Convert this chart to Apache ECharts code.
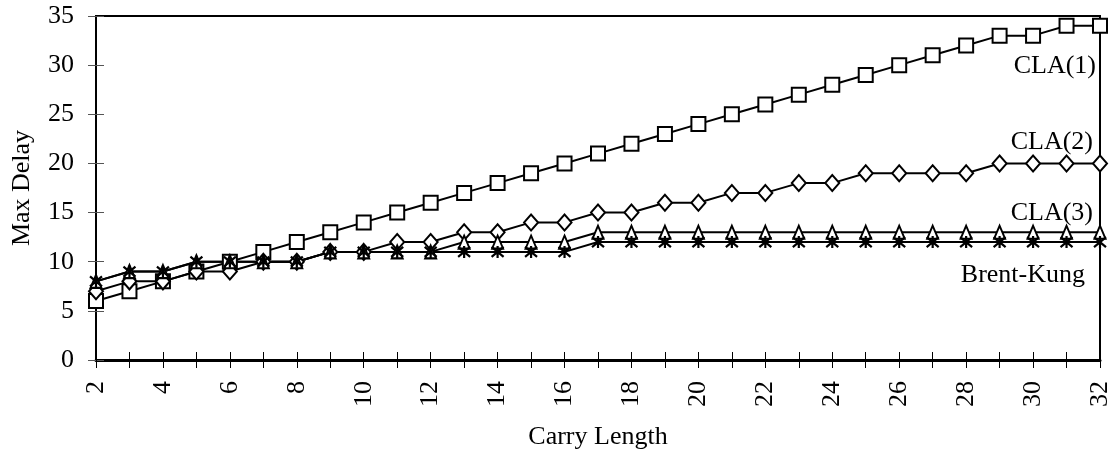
<!DOCTYPE html>
<html><head><meta charset="utf-8">
<script src="https://cdn.jsdelivr.net/npm/echarts@6/dist/echarts.min.js"></script>
<style>html,body{margin:0;padding:0;background:#fff}#c{width:1112px;height:452px}</style>
</head><body><div id="c"></div>
<script>
var categories = [2,3,4,5,6,7,8,9,10,11,12,13,14,15,16,17,18,19,20,21,22,23,24,25,26,27,28,29,30,31,32];
var cla1 = [6,7,8,9,10,11,12,13,14,15,16,17,18,19,20,21,22,23,24,25,26,27,28,29,30,31,32,33,33,34,34];
var cla2 = [7,8,8,9,9,10,10,11,11,12,12,13,13,14,14,15,15,16,16,17,17,18,18,19,19,19,19,20,20,20,20];
var cla3 = [8,9,9,10,10,10,10,11,11,11,11,12,12,12,12,13,13,13,13,13,13,13,13,13,13,13,13,13,13,13,13];
var brentKung = [8,9,9,10,10,10,10,11,11,11,11,11,11,11,11,12,12,12,12,12,12,12,12,12,12,12,12,12,12,12,12];
var seriesNames = ['CLA(1)','CLA(2)','CLA(3)','Brent-Kung'];
var yTicks = [0,5,10,15,20,25,30,35];

var FONT = 'Liberation Serif';
var chart = echarts.init(document.getElementById('c'), null, {renderer:'canvas'});
function ser(name, data, symbol, size){
  return {
    name:name, type:'line', data:data, symbol:symbol, symbolSize:size,
    showAllSymbol:true, animation:false,
    lineStyle:{color:'#000', width:2},
    itemStyle:{color:'#fff', borderColor:'#000', borderWidth:2}
  };
}
var star = ser(seriesNames[3], brentKung, 'path://M0,0L10,10M10,0L0,10M5,-1L5,11', [12,12]);
star.itemStyle = {color:'none', borderColor:'#000', borderWidth:2.2};
var option = {
  animation:false,
  grid:{left:96, right:12, top:16, bottom:92, show:true, borderColor:'#000', borderWidth:2, containLabel:false, outerBoundsMode:'none'},
  xAxis:[{
    type:'category', data:categories, boundaryGap:false,
    axisLine:{lineStyle:{color:'#000', width:3}},
    axisTick:{show:true, interval:0, length:8, lineStyle:{color:'#000', width:1}},
    axisLabel:{interval:1, rotate:90, fontFamily:FONT, fontSize:26, color:'#000', margin:21},
    name:'Carry Length', nameLocation:'middle', nameGap:64,
    nameTextStyle:{fontFamily:FONT, fontSize:26, color:'#000'}
  },{
    type:'category', data:categories, boundaryGap:false, position:'bottom',
    axisLine:{show:false}, axisLabel:{show:false},
    axisTick:{show:true, inside:true, interval:0, length:8, lineStyle:{color:'#000', width:1}}
  }],
  yAxis:[{
    type:'value', min:0, max:35, interval:5,
    axisLine:{show:true, lineStyle:{color:'#000', width:2}},
    axisTick:{show:true, length:8, lineStyle:{color:'#555', width:1}},
    splitLine:{show:false},
    axisLabel:{fontFamily:FONT, fontSize:26, color:'#000', margin:22,
      formatter:function(v){ return yTicks.indexOf(v) >= 0 ? String(v) : ''; }},
    name:'Max Delay', nameLocation:'middle', nameGap:61, nameRotate:90,
    nameTextStyle:{fontFamily:FONT, fontSize:26, color:'#000'}
  },{
    type:'value', min:0, max:35, interval:5, position:'left',
    axisLine:{show:false}, axisLabel:{show:false}, splitLine:{show:false},
    axisTick:{show:true, inside:true, length:8, lineStyle:{color:'#555', width:1}}
  }],
  series:[
    ser(seriesNames[0], cla1, 'rect', [14,14]),
    ser(seriesNames[1], cla2, 'diamond', [14,16]),
    ser(seriesNames[2], cla3, 'triangle', [11,13]),
    star
  ],
  graphic:[
    {type:'text', x:1096, y:66, style:{text:seriesNames[0], font:'26px "Liberation Serif"', fill:'#000', align:'right', verticalAlign:'middle'}},
    {type:'text', x:1093, y:142, style:{text:seriesNames[1], font:'26px "Liberation Serif"', fill:'#000', align:'right', verticalAlign:'middle'}},
    {type:'text', x:1093, y:213, style:{text:seriesNames[2], font:'26px "Liberation Serif"', fill:'#000', align:'right', verticalAlign:'middle'}},
    {type:'text', x:1085, y:275, style:{text:seriesNames[3], font:'26px "Liberation Serif"', fill:'#000', align:'right', verticalAlign:'middle'}}
  ]
};
chart.setOption(option);
</script></body></html>
